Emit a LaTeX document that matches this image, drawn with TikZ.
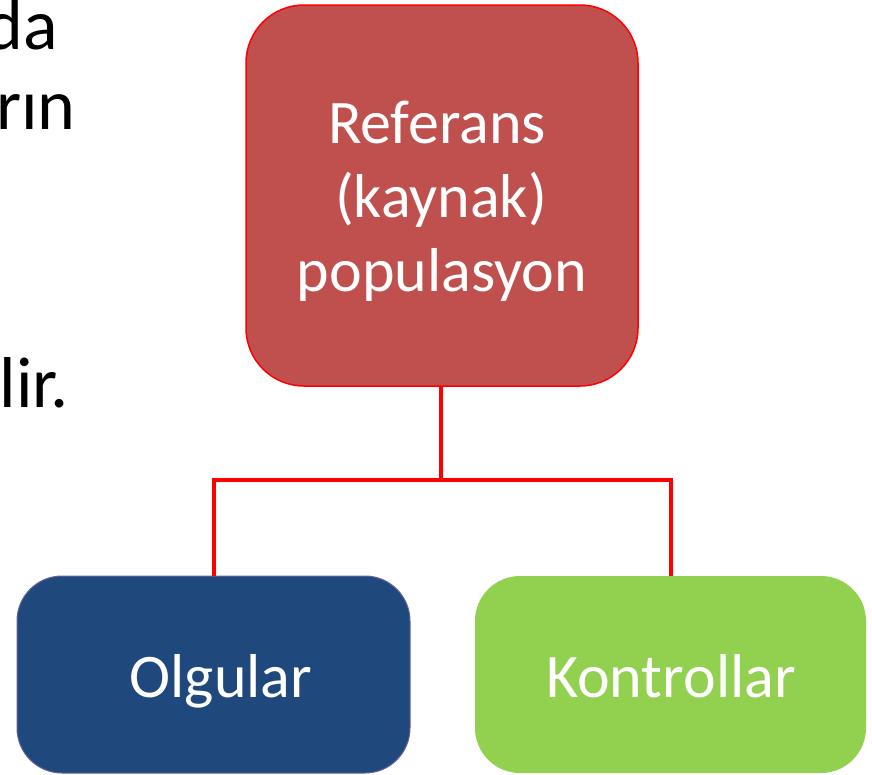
\documentclass[tikz,border=0pt]{standalone}
\usepackage{fontspec}
\setmainfont{Carlito}
\definecolor{refred}{HTML}{C0504D}
\definecolor{pureRed}{HTML}{FF0000}
\definecolor{olgblue}{HTML}{1F497D}
\definecolor{olgborder}{HTML}{62649A}
\definecolor{kongreen}{HTML}{92D050}
\begin{document}
\begin{tikzpicture}[x=1pt,y=-1pt,
  boxstyle/.style={rectangle, inner sep=0pt},
  boxtext/.style={text=white, inner sep=0pt, anchor=base,
    font=\fontsize{62}{74}\selectfont},
  bodytext/.style={font=\fontsize{72}{86}\selectfont, inner sep=0pt, anchor=base east},
  conn/.style={draw=pureRed, line width=4pt}]
\useasboundingbox (0,0) rectangle (872,774);
\begin{scope}
\clip (0,0) rectangle (872,774);
\node[bodytext] (t1) at (58,49) {da};
\node[bodytext] (t2) at (76,129) {rın};
\node[bodytext] (t3) at (69,407) {lir.};
\end{scope}
\node[boxstyle, fill=refred, draw=pureRed, line width=1.5pt, rounded corners=58pt,
  minimum width=392pt, minimum height=381pt] (top) at (442,195.5) {};
\node[boxtext] (topl1) at (437,143) {Referans};
\node[boxtext] (topl2) at (441,217) {(kaynak)};
\node[boxtext] (topl3) at (442,291) {populasyon};
\node[boxstyle, fill=olgblue, draw=olgborder, line width=1pt, rounded corners=45pt,
  minimum width=393pt, minimum height=197pt] (olg) at (213.5,674.5) {};
\node[boxtext] (olgt) at (221,697) {Olgular};
\node[boxstyle, fill=kongreen, rounded corners=45pt,
  minimum width=391pt, minimum height=197pt] (kon) at (670.5,674.5) {};
\node[boxtext] (kont) at (671,697) {Kontrollar};
\coordinate (junc) at (441,480);
\draw[conn] (top.south -| junc) -- (junc) -| (olg.north);
\draw[conn] (junc) -| (kon.north);
\end{tikzpicture}
\end{document}
